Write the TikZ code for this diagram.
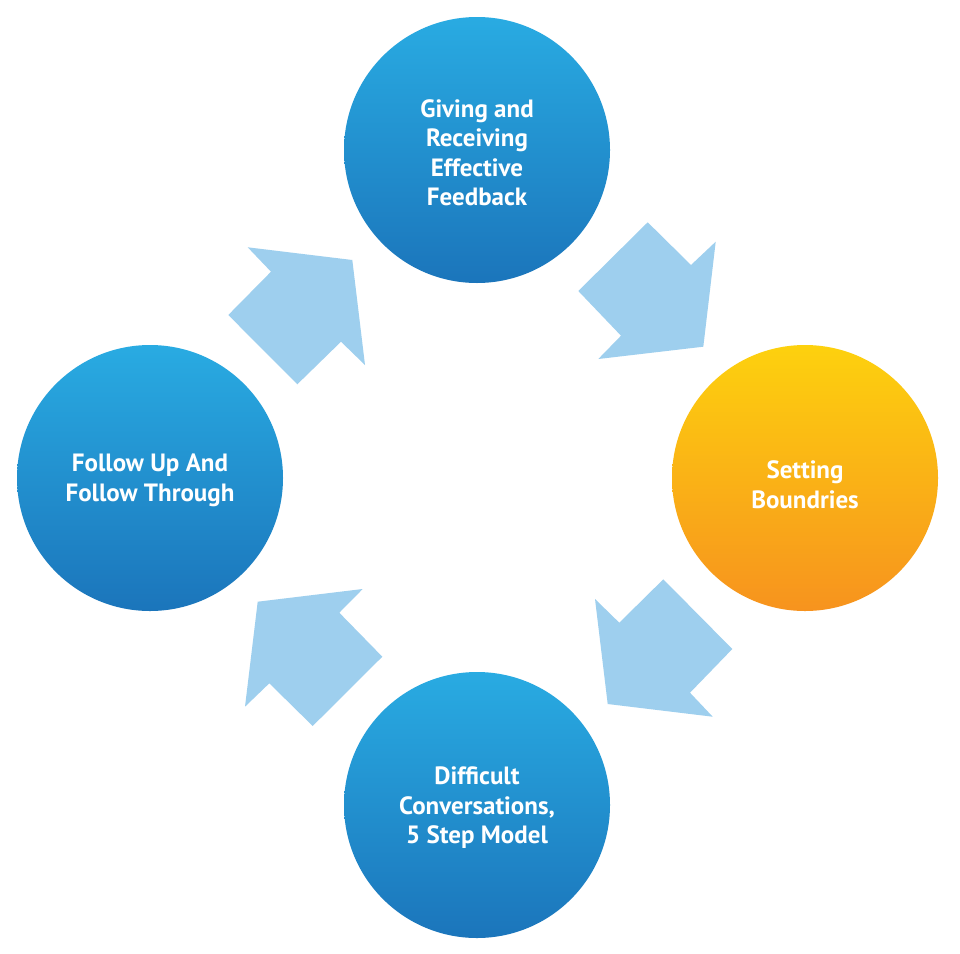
\documentclass[tikz,border=0pt]{standalone}
\usepackage{fontspec}
\setmainfont{PT Sans}
\begin{document}
\begin{tikzpicture}[x=1pt,y=-1pt,
  stage/.style={circle,minimum size=266pt,inner sep=0pt},
  bluestage/.style={stage,top color=topblue,bottom color=botblue},
  orangestage/.style={stage,top color=toporange,bottom color=botorange},
  stagetext/.style={text=white,align=center,inner sep=0pt,
    font=\bfseries\fontsize{25}{29.5}\selectfont},
  blockarrow/.style={fill=arrowblue,draw=none}]
\definecolor{topblue}{HTML}{29ABE2}
\definecolor{botblue}{HTML}{1B75BB}
\definecolor{toporange}{HTML}{FDD10E}
\definecolor{botorange}{HTML}{F7931E}
\definecolor{arrowblue}{HTML}{9ECFEE}
\useasboundingbox (0,0) rectangle (960,953);
\fill[white] (0,0) rectangle (960,953);

\node[bluestage] (feedback) at (477,150) {};
\node[stagetext] (feedbacktext) at (477,152.5) {Giving and\\Receiving\\Effective\\Feedback};
\node[orangestage] (bound) at (805,478) {};
\node[stagetext] (boundtext) at (805,484.5) {Setting\\Boundries};
\node[bluestage] (difficult) at (477,805) {};
\node[stagetext] (difficulttext) at (477,808) {Difficult\\Conversations,\\5 Step Model};
\node[bluestage] (follow) at (150,478) {};
\node[stagetext] (followtext) at (150,480.5) {Follow Up And\\Follow Through};

% top-right arrow (pointing south-east)
\fill[blockarrow] (647.7,222.3) -- (691,265) -- (715.7,241.7) -- (703.3,346.7)
  -- (598.3,359) -- (621,335.7) -- (578.3,291) -- cycle;
% bottom-right arrow (pointing south-west)
\fill[blockarrow] (663.3,579.3) -- (732.3,649) -- (690,692.7) -- (712.7,716.7)
  -- (607.7,704) -- (595,599) -- (619.3,622.7) -- cycle;
% bottom-left arrow (pointing north-west)
\fill[blockarrow] (362.7,589) -- (339.3,612.7) -- (382.3,656.7) -- (312.7,726)
  -- (269.3,683.3) -- (245,706.7) -- (257.7,601.7) -- cycle;
% top-left arrow (pointing north-east)
\fill[blockarrow] (247.7,247.3) -- (352.3,260) -- (365,365) -- (341,341.7)
  -- (297.3,384.3) -- (228.3,315) -- (271,271.7) -- cycle;
\end{tikzpicture}
\end{document}
